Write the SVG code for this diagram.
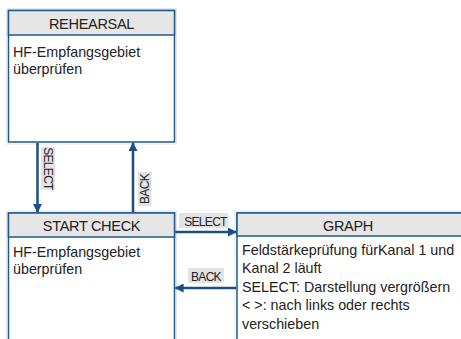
<svg xmlns="http://www.w3.org/2000/svg" width="461" height="339" viewBox="0 0 461 339">
  <defs>
    <style>
      .box { fill: #ffffff; stroke: #1f5a8c; stroke-width: 1.5; }
      .halo { fill: none; stroke: #e3e6ea; stroke-width: 1; }
      .hdr { fill: #e6e6e6; stroke: #1f5a8c; stroke-width: 1.5; }
      .title { font-family: "Liberation Sans", Arial, sans-serif; font-size: 14.5px; fill: #222222; text-anchor: middle; letter-spacing: -0.3px; }
      .body { font-family: "Liberation Sans", Arial, sans-serif; font-size: 14.3px; fill: #222222; }
      .conn { stroke: #1a4f80; stroke-width: 2.5; fill: none; }
      .lblbg { fill: #e3e3e3; }
      .lbl { font-family: "Liberation Sans", Arial, sans-serif; font-size: 12px; fill: #222222; text-anchor: middle; letter-spacing: -0.7px; }
    </style>
    <marker id="arr" viewBox="0 0 10 10" refX="9" refY="5" markerWidth="3.6" markerHeight="3.6" orient="auto" markerUnits="strokeWidth">
      <path d="M0,0 L10,5 L0,10 Z" fill="#1a4f80"/>
    </marker>
  </defs>
  <rect width="461" height="339" fill="#ffffff"/>

  <g id="rehearsal">
    <rect class="halo" x="6.5" y="8.5" width="170" height="135.5"/>
    <rect class="box" x="8.5" y="10.5" width="166" height="131.5"/>
    <rect class="hdr" x="8.5" y="10.5" width="166" height="24.5"/>
    <text class="title" x="91.5" y="28.5">REHEARSAL</text>
    <text class="body" x="13" y="57">HF-Empfangsgebiet</text>
    <text class="body" x="13" y="74">überprüfen</text>
  </g>

  <g id="start-check">
    <rect class="halo" x="6.5" y="211" width="170" height="200"/>
    <rect class="box" x="8.5" y="213" width="166" height="200"/>
    <rect class="hdr" x="8.5" y="213" width="166" height="24"/>
    <text class="title" x="91.5" y="231">START CHECK</text>
    <text class="body" x="13" y="256.5">HF-Empfangsgebiet</text>
    <text class="body" x="13" y="274">überprüfen</text>
  </g>

  <g id="graph">
    <rect class="halo" x="235" y="211" width="250" height="200"/>
    <rect class="box" x="237" y="213" width="240" height="200"/>
    <rect class="hdr" x="237" y="213" width="240" height="23"/>
    <text class="title" x="348" y="231">GRAPH</text>
    <text class="body" x="242" y="254.5">Feldstärkeprüfung fürKanal 1 und</text>
    <text class="body" x="242" y="273">Kanal 2 läuft</text>
    <text class="body" x="242" y="291.5">SELECT: Darstellung vergrößern</text>
    <text class="body" x="242" y="310">&lt; &gt;: nach links oder rechts</text>
    <text class="body" x="242" y="328.5">verschieben</text>
  </g>

  <g id="connectors">
    <line class="conn" x1="37.5" y1="142.8" x2="37.5" y2="212" marker-end="url(#arr)"/>
    <line class="conn" x1="133" y1="212.5" x2="133" y2="143" marker-end="url(#arr)"/>
    <line class="conn" x1="175.3" y1="232" x2="236" y2="232" marker-end="url(#arr)"/>
    <line class="conn" x1="236.3" y1="288" x2="175.5" y2="288" marker-end="url(#arr)"/>

    <rect class="lblbg" x="41" y="147" width="14" height="43"/>
    <text class="lbl" transform="translate(44.2,168.5) rotate(90)">SELECT</text>
    <rect class="lblbg" x="138" y="172" width="13.5" height="34"/>
    <text class="lbl" transform="translate(148.5,189) rotate(-90)">BACK</text>
    <rect class="lblbg" x="179" y="213" width="49" height="15"/>
    <text class="lbl" x="205.5" y="225.5">SELECT</text>
    <rect class="lblbg" x="188" y="268" width="36" height="15"/>
    <text class="lbl" x="206" y="280.5">BACK</text>
  </g>
</svg>
